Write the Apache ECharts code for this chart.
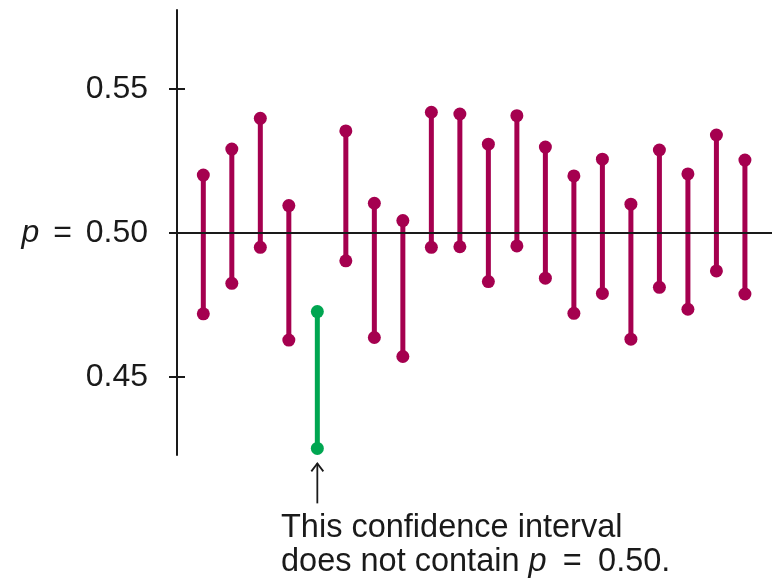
<!DOCTYPE html>
<html>
<head>
<meta charset="utf-8">
<script src="https://cdn.jsdelivr.net/npm/echarts@6/dist/echarts.min.js"></script>
<style>html,body{margin:0;padding:0;background:#fff;}#c{width:772px;height:581px;}</style>
</head>
<body>
<div id="c"></div>
<script>
const samples = [1,2,3,4,5,6,7,8,9,10,11,12,13,14,15,16,17,18,19,20];
const lower = [0.4719,0.4825,0.4950,0.4628,0.4252,0.4903,0.4637,0.4571,0.4950,0.4952,0.4831,0.4955,0.4843,0.4721,0.4790,0.4631,0.4811,0.4735,0.4868,0.4788];
const upper = [0.5201,0.5291,0.5398,0.5095,0.4727,0.5354,0.5103,0.5043,0.5419,0.5413,0.5308,0.5407,0.5298,0.5198,0.5256,0.5100,0.5288,0.5205,0.5340,0.5253];
const trueP = 0.50;
const tickValues = [0.45, 0.50, 0.55];
const noteLines = ['This confidence interval', 'does not contain {i|p}\u2002=\u20020.50.'];

const MAGENTA = '#a5004f';
const GREEN = '#00a651';
const INK = '#1a1a1a';
const FONT = '"Liberation Sans", Arial, Helvetica, sans-serif';

const data = samples.map((s, i) => [s, lower[i], upper[i], (lower[i] > trueP || upper[i] < trueP) ? 1 : 0]);

const xMin = 0.077, xMax = 20.95;
const yMin = 0.4229, yMax = 0.5774;
const tickInner = (xMax - xMin) * 8 / 595; // 8px worth of x units

const markData = [{yAxis: trueP}].concat(tickValues.map(v => [
  {coord: [xMin, v]}, {coord: [xMin + tickInner, v]}
]));

const chart = echarts.init(document.getElementById('c'), null, {renderer: 'canvas'});
chart.setOption({
  animation: false,
  grid: {left: 177, right: 0, top: 10, bottom: 126},
  xAxis: {type: 'value', min: xMin, max: xMax, show: false},
  yAxis: {
    type: 'value', min: yMin, max: yMax, position: 'left',
    splitLine: {show: false},
    axisLine: {show: true, lineStyle: {color: INK, width: 2}},
    axisTick: {show: true, inside: false, length: 8, lineStyle: {color: INK, width: 2}, customValues: tickValues},
    axisLabel: {
      show: true, margin: 29, customValues: tickValues,
      color: INK, fontSize: 32, fontFamily: FONT,
      formatter: v => Math.abs(v - trueP) < 1e-9 ? '{i|p} {e|=} 0.50' : v.toFixed(2),
      rich: {
        i: {fontStyle: 'italic', fontSize: 32, fontFamily: FONT, color: INK},
        e: {fontSize: 32, fontFamily: FONT, color: INK, padding: [0, 5, 0, 5]}
      }
    }
  },
  series: [{
    type: 'line', data: [], z: 1,
    markLine: {
      silent: true, symbol: 'none', label: {show: false},
      lineStyle: {color: INK, width: 2, type: 'solid'},
      data: markData
    }
  }, {
    type: 'custom', z: 3, data: data,
    renderItem: function (params, api) {
      const x = api.value(0), lo = api.value(1), hi = api.value(2);
      const col = api.value(3) ? GREEN : MAGENTA;
      const p1 = api.coord([x, lo]), p2 = api.coord([x, hi]);
      return {type: 'group', children: [
        {type: 'line', shape: {x1: p1[0], y1: p1[1], x2: p2[0], y2: p2[1]}, style: {stroke: col, lineWidth: 5}},
        {type: 'circle', shape: {cx: p1[0], cy: p1[1], r: 6.5}, style: {fill: col}},
        {type: 'circle', shape: {cx: p2[0], cy: p2[1], r: 6.5}, style: {fill: col}}
      ]};
    }
  }]
});

// annotation arrow under the interval that misses p
const missIdx = data.findIndex(d => d[3] === 1);
const base = chart.convertToPixel({xAxisIndex: 0, yAxisIndex: 0}, [samples[missIdx], lower[missIdx]]);
const ax = base[0], ay = base[1] + 15;
chart.setOption({
  graphic: [
    {type: 'line', shape: {x1: ax, y1: ay, x2: ax, y2: ay + 40}, style: {stroke: INK, lineWidth: 1.8}},
    {type: 'polyline', shape: {points: [[ax - 6, ay + 8], [ax, ay], [ax + 6, ay + 8]]}, style: {stroke: INK, lineWidth: 1.8, fill: null}},
    {type: 'text', left: 281, top: 511, style: {
      text: noteLines.join('\n'), fill: INK, font: '32.5px ' + FONT, lineHeight: 34,
      rich: {i: {fontStyle: 'italic', fontSize: 32.5, fontFamily: FONT, fill: INK}}
    }}
  ]
});
</script>
</body>
</html>
